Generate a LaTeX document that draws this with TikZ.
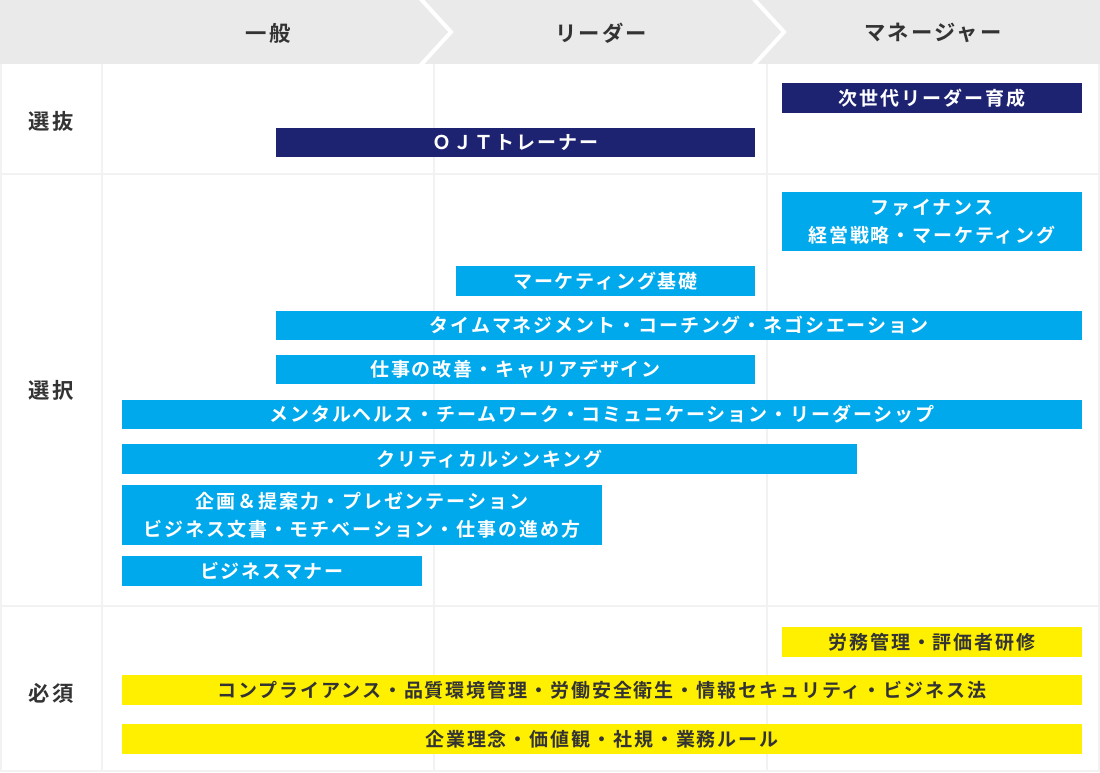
\documentclass[tikz,border=0pt]{standalone}
\usepackage{fontspec}
\setmainfont{Noto Sans CJK JP}[BoldFont={Noto Sans CJK JP Bold}, LetterSpace=10]
\definecolor{navy}{HTML}{1D2371}
\definecolor{sky}{HTML}{00A9EC}
\definecolor{lemon}{HTML}{FFF000}
\definecolor{ink}{HTML}{333333}
\definecolor{headgray}{HTML}{EAEAEA}
\definecolor{linegray}{HTML}{F2F2F2}

\begin{document}
\begin{tikzpicture}[x=0.75pt, y=-0.75pt,
    tableline/.style={draw=linegray, line width=1.5pt},
    headtext/.style={font=\fontsize{16}{19}\selectfont\bfseries, text=ink},
    course/.style={inner sep=0pt, minimum height=22pt, align=center, font=\fontsize{14.25}{21}\selectfont\bfseries},
    navybox/.style={course, fill=navy, text=white},
    bluebox/.style={course, fill=sky, text=white},
    yellowbox/.style={course, fill=lemon, text=ink}]
    \useasboundingbox (0,0) rectangle (1100,773);
    \fill[headgray] (0,0) rectangle (1100,64);
    \foreach \x in {419,752} \draw[white, line width=3pt] (\x,-3) -- (\x+32,32) -- (\x,67);
    \foreach \x in {1,102,434,767,1099} \draw[tableline] (\x,64) -- (\x,771);
    \foreach \y in {174,606,771} \draw[tableline] (0,\y) -- (1100,\y);
    \node[headtext] (ippan) at (268,33) {一般};
    \node[headtext] (leader) at (601,33) {リーダー};
    \node[headtext] (manager) at (933,33) {マネージャー};
    \node[headtext] (senbatsu) at (51,121) {選抜};
    \node[headtext] (sentaku) at (51,390) {選択};
    \node[headtext] (hissu) at (51,693) {必須};
    \node[navybox, minimum width=225pt] (jisedai) at (932,98) {次世代リーダー育成};
    \node[navybox, minimum width=359.25pt] (ojt) at (515.5,142.5) {ＯＪＴトレーナー};
    \node[bluebox, minimum width=225pt, minimum height=44.5pt] (finance) at (932,221.5) {ファイナンス\\経営戦略・マーケティング};
    \node[bluebox, minimum width=224.25pt] (mktkiso) at (605.5,281) {マーケティング基礎};
    \node[bluebox, minimum width=604.5pt] (timemgmt) at (679,325.5) {タイムマネジメント・コーチング・ネゴシエーション};
    \node[bluebox, minimum width=359.25pt] (kaizen) at (515.5,369.5) {仕事の改善・キャリアデザイン};
    \node[bluebox, minimum width=720pt] (mental) at (602,414.5) {メンタルヘルス・チームワーク・コミュニケーション・リーダーシップ};
    \node[bluebox, minimum width=551.25pt] (critical) at (489.5,459) {クリティカルシンキング};
    \node[bluebox, minimum width=360pt, minimum height=45pt] (kikaku) at (362,515) {企画＆提案力・プレゼンテーション\\ビジネス文書・モチベーション・仕事の進め方};
    \node[bluebox, minimum width=225pt] (manner) at (272,571) {ビジネスマナー};
    \node[yellowbox, minimum width=225pt] (roumu) at (932,642) {労務管理・評価者研修};
    \node[yellowbox, minimum width=720pt] (compliance) at (602,690) {コンプライアンス・品質環境管理・労働安全衛生・情報セキュリティ・ビジネス法};
    \node[yellowbox, minimum width=720pt] (rinen) at (602,739) {企業理念・価値観・社規・業務ルール};
  \end{tikzpicture}
\end{document}
